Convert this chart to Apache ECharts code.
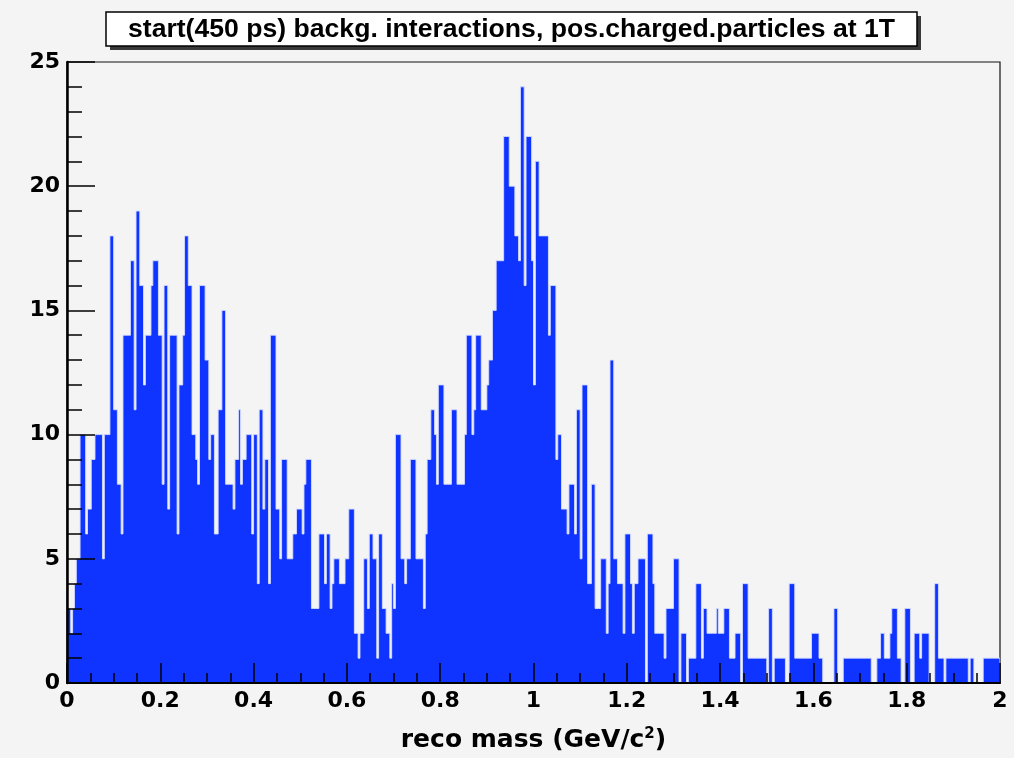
<!DOCTYPE html>
<html><head><meta charset="utf-8">
<script src="https://cdn.jsdelivr.net/npm/echarts/dist/echarts.min.js"></script>
<style>html,body{margin:0;padding:0;background:#f4f4f4}#c{width:1014px;height:758px}</style>
</head><body><div id="c"></div>
<script>
// histogram: 500 bins from 0 to 2 GeV/c^2
const massMin = 0, massMax = 2, nBins = 500;
const counts0 = [3,3,2,3,4,5,5,10,10,10, 6,7,7,9,9,10,10,10,10,5, 10,10,10,18,18,11,11,8,8,6, 14,14,14,14,17,17,11,19,19,16,
 16,12,14,14,14,16,17,17,17,14, 14,8,16,16,7,14,14,14,14,6, 12,12,14,18,18,16,16,10,10,9, 8,16,16,16,13,13,9,10,10,6,
 6,11,11,15,15,8,8,8,8,7, 9,9,11,8,9,9,10,10,10,6];
const counts1 = [10,10,4,11,11,7,9,9,4,14, 14,14,7,7,5,9,9,9,5,5, 5,6,6,7,7,7,6,8,9,9, 9,3,3,3,3,6,6,6,4,6,
 6,3,4,5,5,5,4,4,4,5, 5,7,7,7,2,2,1,2,2,5, 5,3,6,6,5,5,1,6,6,3, 3,2,2,1,4,3,10,10,10,5,
 5,4,5,5,9,9,9,5,5,5, 5,3,6,9,9,11,11,10,8,12];
const counts2 = [12,12,8,8,8,8,11,11,11,8, 8,8,8,10,14,14,14,10,11,14, 14,14,11,11,11,12,13,13,15,15, 17,17,17,17,22,22,22,20,20,20,
 18,18,17,24,24,16,22,22,22,17, 12,21,21,18,18,18,18,18,14,16, 16,16,9,10,10,7,7,7,6,8, 8,8,6,11,11,5,12,12,12,4,
 4,8,8,3,3,3,5,5,5,2, 4,13,13,5,5,4,4,4,2,6];
const counts3 = [6,6,4,2,4,4,5,5,5,5, 0,6,6,6,4,2,2,2,2,2, 1,3,3,3,3,5,5,5,0,2, 2,2,0,1,1,1,1,4,4,4,
 1,3,3,2,2,2,2,2,3,2, 2,2,3,3,3,1,1,1,2,2, 2,0,4,4,4,1,1,1,1,1, 1,1,1,1,1,0,3,3,0,1,
 1,1,1,1,1,0,0,4,4,4, 1,1,1,1,1,1,1,1,1,2];
const counts4 = [2,2,2,1,1,0,0,0,0,0, 0,3,3,0,0,0,1,1,1,1, 1,1,1,1,1,1,1,1,1,1, 1,0,0,0,1,1,2,2,1,1,
 1,2,3,3,3,1,1,0,0,3, 3,3,0,0,2,2,2,1,2,2, 2,2,0,0,0,4,4,1,1,1, 0,1,1,1,1,1,1,1,1,1,
 1,1,1,0,1,1,0,0,0,0, 0,1,1,1,1,1,1,1,1,1];
const counts = counts0.concat(counts1, counts2, counts3, counts4);

const titleText = 'start(450 ps) backg. interactions, pos.charged.particles at 1T';
const xTitle = 'reco mass (GeV/c{sup|2})';

const binW = (massMax - massMin) / nBins;

const chart = echarts.init(document.getElementById('c'), null, {renderer: 'canvas'});
const lab = {fontFamily: '"DejaVu Sans", sans-serif', fontWeight: 'bold', fontSize: 22, color: '#000'};
chart.setOption({
  animation: false,
  backgroundColor: '#f4f4f4',
  grid: {left: 67, right: 14, top: 62, bottom: 70, show: true, borderColor: '#111', borderWidth: 1.2, backgroundColor: 'transparent'},
  xAxis: {
    type: 'value', min: massMin, max: massMax, interval: 0.2, z: 10,
    axisLine: {show: true, onZero: false, lineStyle: {color: '#000', width: 2}},
    axisTick: {show: true, inside: true, length: 20, lineStyle: {color: '#000', width: 1.5}},
    minorTick: {show: true, splitNumber: 4, length: 10, lineStyle: {color: '#000', width: 1.5}},
    splitLine: {show: false},
    axisLabel: Object.assign({margin: 7, formatter: v => (Math.abs(v - Math.round(v)) < 1e-9 ? String(Math.round(v)) : v.toFixed(1))}, lab),
    name: xTitle, nameLocation: 'middle', nameGap: 44,
    nameTextStyle: Object.assign({}, lab, {fontSize: 25, rich: {sup: {fontFamily: '"DejaVu Sans", sans-serif', fontWeight: 'bold', fontSize: 15, color: '#000', verticalAlign: 'top', padding: [0, 0, 12, 0]}}})
  },
  yAxis: {
    type: 'value', min: 0, max: 25, interval: 5, z: 10,
    axisLine: {show: true, onZero: false, lineStyle: {color: '#000', width: 2.5}},
    axisTick: {show: true, inside: true, length: 28, lineStyle: {color: '#000', width: 1.5}},
    minorTick: {show: true, splitNumber: 5, length: 15, lineStyle: {color: '#000', width: 1.5}},
    splitLine: {show: false},
    axisLabel: Object.assign({margin: 7}, lab)
  },
  series: [{
    type: 'custom',
    coordinateSystem: 'cartesian2d',
    data: [[massMin, 0]],
    clip: true,
    z: 2,
    renderItem: function (params, api) {
      const pts = [api.coord([massMin, 0])];
      counts.forEach(function (c, i) {
        pts.push(api.coord([massMin + i * binW, c]));
        pts.push(api.coord([massMin + (i + 1) * binW, c]));
      });
      pts.push(api.coord([massMax, 0]));
      return {type: 'polygon', shape: {points: pts}, style: {fill: '#1034ff', stroke: '#d4dbff', lineWidth: 0.9}};
    }
  }],
  graphic: [
    {type: 'rect', shape: {x: 110, y: 16, width: 811, height: 34}, style: {fill: '#3a3a3a'}, z: 20},
    {type: 'rect', shape: {x: 106, y: 12, width: 811, height: 34}, style: {fill: '#ffffff', stroke: '#000', lineWidth: 1.5}, z: 21},
    {type: 'text', x: 511.5, y: 30, z: 22, style: {text: titleText, font: 'bold 26.6px "Liberation Sans", sans-serif', textAlign: 'center', textVerticalAlign: 'middle', fill: '#000'}}
  ]
});
</script></body></html>
